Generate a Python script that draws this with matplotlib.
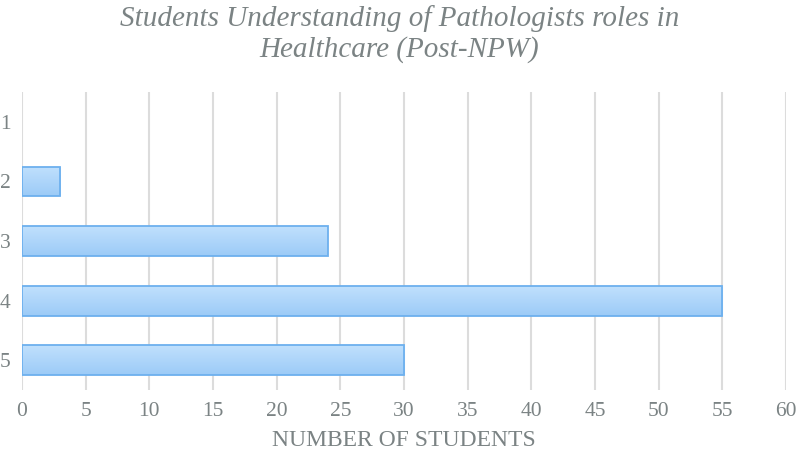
import matplotlib.pyplot as plt
import numpy as np
from matplotlib.colors import LinearSegmentedColormap

# data
categories = ["1", "2", "3", "4", "5"]
students = [0, 3, 24, 55, 30]
x_ticks = list(range(0, 65, 5))

text_grey = "#7b8384"
plt.rcParams['font.family'] = ['Liberation Serif', 'DejaVu Serif']

fig = plt.figure(figsize=(7.99, 4.58), dpi=100)
ax = fig.add_axes([0.0275, 0.1485, 0.9562, 0.6505])

pos = np.arange(len(categories))
bar_h = 0.5

# gradient used inside each bar (lighter at top)
grad = np.linspace(0, 1, 64).reshape(-1, 1)
cmap = LinearSegmentedColormap.from_list("bar", ["#c0e0fd", "#9ccbf7"])

bars = ax.barh(pos, students, height=bar_h, color="none",
               edgecolor="#6db0ee", linewidth=1.3, zorder=3)
for b in bars:
    w = b.get_width()
    if w <= 0:
        b.set_linewidth(0)
        continue
    y0 = b.get_y()
    im = ax.imshow(grad, cmap=cmap, aspect="auto",
                   extent=[0, w, y0 + bar_h, y0], zorder=2)
    im.set_clip_path(b)

ax.set_xlim(0, 60)
ax.set_ylim(len(categories) - 0.5, -0.5)
ax.set_xticks(x_ticks)
ax.set_yticks(pos)
ax.set_yticklabels(categories)
ax.grid(axis="x", color="#dcdcdc", linewidth=1.5, zorder=0)
ax.set_axisbelow(True)
for s in ax.spines.values():
    s.set_visible(False)
ax.tick_params(length=0, colors=text_grey, labelsize=15.5)
ax.tick_params(axis="x", pad=9)
ax.tick_params(axis="y", pad=8)

ax.set_xlabel("NUMBER OF STUDENTS", fontsize=17, color=text_grey, labelpad=6)
fig.suptitle("Students Understanding of Pathologists roles in\nHealthcare (Post-NPW)",
             fontsize=21, style="italic", color=text_grey, y=0.99,
             linespacing=1.2)

fig.savefig("out.png", dpi=100)
